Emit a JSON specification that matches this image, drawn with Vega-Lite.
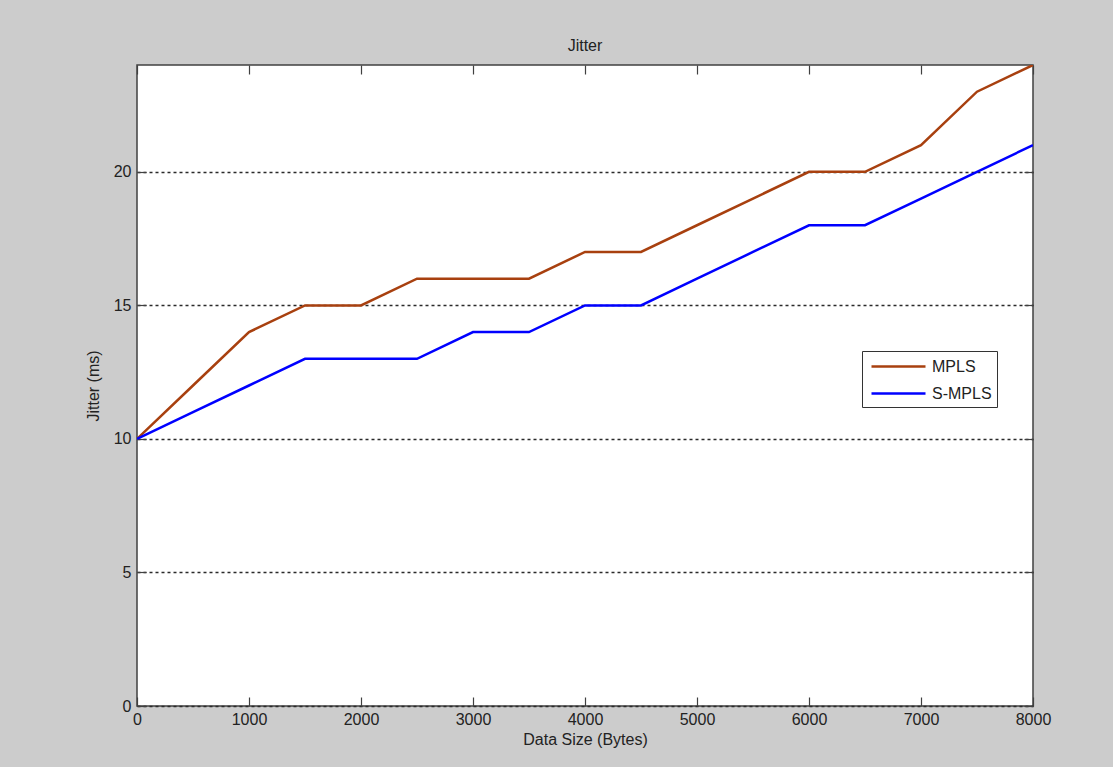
{
  "$schema": "https://vega.github.io/schema/vega-lite/v6.json",
  "width": 896,
  "height": 641,
  "autosize": {"type": "none"},
  "padding": {"left": 137, "top": 65, "right": 80, "bottom": 61},
  "background": "#cccccc",
  "title": {"text": "Jitter", "fontSize": 16, "fontWeight": "normal", "font": "Liberation Sans", "color": "#222222", "offset": 10},
  "config": {
    "font": "Liberation Sans",
    "view": {"stroke": "#404040", "strokeWidth": 1.5, "fill": "white"}
  },
  "data": {
    "values": [
      {"series": "MPLS", "size": 0, "jitter": 10},
      {"series": "MPLS", "size": 500, "jitter": 12},
      {"series": "MPLS", "size": 1000, "jitter": 14},
      {"series": "MPLS", "size": 1500, "jitter": 15},
      {"series": "MPLS", "size": 2000, "jitter": 15},
      {"series": "MPLS", "size": 2500, "jitter": 16},
      {"series": "MPLS", "size": 3000, "jitter": 16},
      {"series": "MPLS", "size": 3500, "jitter": 16},
      {"series": "MPLS", "size": 4000, "jitter": 17},
      {"series": "MPLS", "size": 4500, "jitter": 17},
      {"series": "MPLS", "size": 5000, "jitter": 18},
      {"series": "MPLS", "size": 5500, "jitter": 19},
      {"series": "MPLS", "size": 6000, "jitter": 20},
      {"series": "MPLS", "size": 6500, "jitter": 20},
      {"series": "MPLS", "size": 7000, "jitter": 21},
      {"series": "MPLS", "size": 7500, "jitter": 23},
      {"series": "MPLS", "size": 8000, "jitter": 24},
      {"series": "S-MPLS", "size": 0, "jitter": 10},
      {"series": "S-MPLS", "size": 500, "jitter": 11},
      {"series": "S-MPLS", "size": 1000, "jitter": 12},
      {"series": "S-MPLS", "size": 1500, "jitter": 13},
      {"series": "S-MPLS", "size": 2000, "jitter": 13},
      {"series": "S-MPLS", "size": 2500, "jitter": 13},
      {"series": "S-MPLS", "size": 3000, "jitter": 14},
      {"series": "S-MPLS", "size": 3500, "jitter": 14},
      {"series": "S-MPLS", "size": 4000, "jitter": 15},
      {"series": "S-MPLS", "size": 4500, "jitter": 15},
      {"series": "S-MPLS", "size": 5000, "jitter": 16},
      {"series": "S-MPLS", "size": 5500, "jitter": 17},
      {"series": "S-MPLS", "size": 6000, "jitter": 18},
      {"series": "S-MPLS", "size": 6500, "jitter": 18},
      {"series": "S-MPLS", "size": 7000, "jitter": 19},
      {"series": "S-MPLS", "size": 7500, "jitter": 20},
      {"series": "S-MPLS", "size": 8000, "jitter": 21}
    ]
  },
  "layer": [
    {
      "mark": {"type": "line", "strokeWidth": 2.5, "clip": true},
      "encoding": {
        "x": {
          "field": "size", "type": "quantitative",
          "scale": {"domain": [0, 8000], "nice": false, "zero": false},
          "axis": {
            "orient": "bottom", "title": "Data Size (Bytes)",
            "values": [0, 1000, 2000, 3000, 4000, 5000, 6000, 7000, 8000],
            "format": "d", "domain": false, "grid": false,
            "tickSize": -9, "tickColor": "#404040", "tickWidth": 1.2,
            "labelFontSize": 16, "labelColor": "#222222", "labelPadding": 14, "labelFlush": false,
            "titleFontSize": 16, "titleFontWeight": "normal", "titleColor": "#222222", "titlePadding": 4
          }
        },
        "y": {
          "field": "jitter", "type": "quantitative",
          "scale": {"domain": [0, 24], "nice": false, "zero": false},
          "axis": {
            "orient": "left", "title": "Jitter (ms)",
            "values": [0, 5, 10, 15, 20],
            "format": "d", "domain": false,
            "grid": true, "gridColor": "#2a2a2a", "gridDash": [3, 3], "gridWidth": 1.3, "gridOpacity": 1,
            "tickSize": -9, "tickColor": "#404040", "tickWidth": 1.2,
            "labelFontSize": 16, "labelColor": "#222222", "labelPadding": 15,
            "titleFontSize": 16, "titleFontWeight": "normal", "titleColor": "#222222", "titlePadding": 12
          }
        },
        "color": {
          "field": "series", "type": "nominal",
          "scale": {"domain": ["MPLS", "S-MPLS"], "range": ["#a8400f", "#0000ff"]},
          "legend": {
            "orient": "none", "legendX": 725, "legendY": 286, "title": null,
            "strokeColor": "#333333", "fillColor": "white", "padding": 5,
            "symbolType": "M-3,0H3", "symbolSize": 324, "symbolStrokeWidth": 2.5,
            "symbolOffset": 21, "labelOffset": 23,
            "labelFontSize": 16, "labelColor": "#222222", "rowPadding": 8
          }
        }
      }
    },
    {
      "mark": {"type": "line", "opacity": 0},
      "encoding": {
        "x": {
          "field": "size", "type": "quantitative",
          "axis": {
            "orient": "top", "title": null, "labels": false, "domain": false, "grid": false,
            "values": [0, 1000, 2000, 3000, 4000, 5000, 6000, 7000, 8000],
            "tickSize": -9, "tickColor": "#404040", "tickWidth": 1.2
          }
        },
        "y": {
          "field": "jitter", "type": "quantitative",
          "axis": {
            "orient": "right", "title": null, "labels": false, "domain": false, "grid": false,
            "values": [0, 5, 10, 15, 20],
            "tickSize": -9, "tickColor": "#404040", "tickWidth": 1.2
          }
        },
        "detail": {"field": "series"}
      }
    }
  ],
  "resolve": {"axis": {"x": "independent", "y": "independent"}}
}
